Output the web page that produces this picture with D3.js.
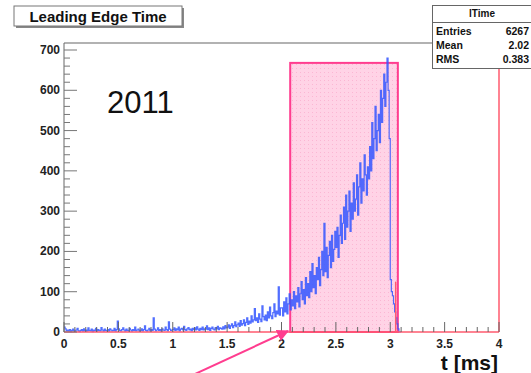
<!DOCTYPE html>
<html><head><meta charset="utf-8">
<script src="https://cdn.jsdelivr.net/npm/d3@7"></script>
<style>body{margin:0;background:#fff}svg{display:block;font-family:"Liberation Sans",Arial,sans-serif}</style>
</head><body><svg id="c" width="531" height="373"></svg>
<script>
// ---- data ----
const binWidth = 0.01;           // ms
const binStart = 0;
const counts = [
 12,8,3,5,2,6,1,4,7,3, 2,5,9,3,1,4,6,2,8,3, 5,2,10,4,3,7,1,5,3,9, 2,6,4,3,11,5,2,7,4,3, 6,2,8,5,3,4,9,2,6,27,
 8,4,3,6,10,5,2,7,4,3, 9,5,2,6,4,12,3,5,7,2, 4,8,3,6,15,4,2,5,9,3, 6,4,35,7,3,5,10,4,6,3, 8,5,4,12,6,3,25,7,4,5,
 6,10,4,8,5,12,3,7,9,5, 14,6,4,8,11,5,7,3,9,6, 10,5,13,7,4,9,6,12,5,8, 7,15,6,10,4,9,12,7,5,11, 8,14,6,10,9,7,13,8,16,10,
 12,18,9,15,20,11,16,25,13,18, 22,14,28,17,21,30,16,24,35,19, 27,22,40,25,30,58,28,35,24,45, 32,26,65,38,30,42,28,50,35,62, 40,33,48,70,38,52,45,112,42,60,
 60,40,75,50,85,45,70,95,55,80, 65,100,58,90,75,110,62,95,125,80, 105,70,135,90,120,85,150,100,170,110, 140,95,160,130,185,115,155,200,140,270, 150,210,135,190,225,160,240,175,205,250,
 210,260,185,240,290,220,270,310,230,340, 260,300,350,250,320,280,370,300,330,390, 290,360,420,320,380,350,440,390,340,410,
 380,460,400,520,430,480,560,450,500,540, 470,600,520,580,640,560,620,680,600,480,
 130,100,90,70,50,35,20,8,0,0
];
const redT = [3.05, 4.0];        // second (red) histogram spikes
const redV = [125, 720];
const windowT = [2.08, 3.07];    // shaded selection window
const windowV = 668;
const xTicks = [0, 0.5, 1, 1.5, 2, 2.5, 3, 3.5, 4];
const yTicks = [0, 100, 200, 300, 400, 500, 600, 700];
const title = "Leading Edge Time";
const statsName = "lTime";
const statsLabels = ["Entries", "Mean", "RMS"];
const statsValues = ["6267", "2.02", "0.383"];
const yearLabel = "2011";
const xTitle = "t [ms]";

// ---- layout ----
const svg = d3.select("#c");
const L = 64, R = 499, T = 43, B = 332;
const x = d3.scaleLinear().domain([0, 4]).range([L, R]);
const y = d3.scaleLinear().domain([0, 700]).range([B, 50]);

// frame top
svg.append("line").attr("x1", L).attr("x2", 432).attr("y1", T).attr("y2", T).attr("stroke", "#999").attr("stroke-width", 1.5);

// shaded window
const defs = svg.append("defs");
const pat = defs.append("pattern").attr("id", "dots").attr("width", 4).attr("height", 4).attr("patternUnits", "userSpaceOnUse");
pat.append("rect").attr("width", 4).attr("height", 4).attr("fill", "#ffd3e6");
pat.append("rect").attr("width", 1).attr("height", 1).attr("fill", "#fbb6d3");
svg.append("rect").attr("x", x(windowT[0])).attr("y", y(windowV))
  .attr("width", x(windowT[1]) - x(windowT[0])).attr("height", y(0) - y(windowV))
  .attr("fill", "url(#dots)").attr("stroke", "#ff3d8f").attr("stroke-width", 2);

// histogram
const pts = counts.map((c, i) => [binStart + i * binWidth, c]);
pts.push([binStart + counts.length * binWidth, 0]);
const line = d3.line().x(d => x(d[0])).y(d => y(d[1])).curve(d3.curveStepAfter);
svg.append("path").attr("d", line(pts)).attr("fill", "none").attr("stroke", "#3355ff").attr("stroke-width", 1.2).attr("stroke-opacity", 0.85);

// red histogram (baseline + spikes)
svg.append("line").attr("x1", x(0)).attr("x2", x(4)).attr("y1", y(0)).attr("y2", y(0)).attr("stroke", "#ff5a6e").attr("stroke-width", 1.5);
redT.forEach((t, i) => {
  svg.append("line").attr("x1", x(t)).attr("x2", x(t)).attr("y1", y(0)).attr("y2", y(redV[i])).attr("stroke", "#ff5a6e").attr("stroke-width", 1.5);
});

// axes
const yAxis = svg.append("g");
yAxis.append("line").attr("x1", L).attr("x2", L).attr("y1", T).attr("y2", B).attr("stroke", "#666");
d3.range(0, 720, 20).forEach(v => {
  const major = v % 100 === 0;
  if (y(v) < T) return;
  yAxis.append("line").attr("x1", L).attr("x2", L + (major ? 13 : 6)).attr("y1", y(v)).attr("y2", y(v)).attr("stroke", "#777");
});
yTicks.forEach(v => {
  yAxis.append("text").attr("x", L - 4).attr("y", y(v) + 4).attr("text-anchor", "end")
    .attr("font-size", 12).attr("font-weight", "bold").attr("fill", "#222").text(d3.format("d")(v));
});
const xAxis = svg.append("g");
d3.range(0, 41).forEach(i => {
  const v = i / 10;
  const major = i % 5 === 0;
  xAxis.append("line").attr("x1", x(v)).attr("x2", x(v)).attr("y1", B).attr("y2", B - (major ? 10 : 5)).attr("stroke", "#666");
});
xTicks.forEach(v => {
  xAxis.append("text").attr("x", x(v)).attr("y", B + 16).attr("text-anchor", "middle")
    .attr("font-size", 12).attr("font-weight", "bold").attr("fill", "#222").text(String(v));
});

// year label
svg.append("text").attr("x", 107).attr("y", 113).attr("font-size", 31).attr("fill", "#111").text(yearLabel);
// x title
svg.append("text").attr("x", 498).attr("y", 370).attr("text-anchor", "end").attr("font-size", 21).attr("font-weight", "bold").attr("fill", "#111").text(xTitle);

// title box
svg.append("rect").attr("x", 16).attr("y", 8).attr("width", 168).attr("height", 20).attr("fill", "#888");
svg.append("rect").attr("x", 14).attr("y", 6).attr("width", 168).attr("height", 20).attr("fill", "#fff").attr("stroke", "#777");
svg.append("text").attr("x", 98).attr("y", 21.5).attr("text-anchor", "middle").attr("font-size", 15).attr("font-weight", "bold").attr("fill", "#111").text(title);

// stats box
const sb = svg.append("g");
sb.append("rect").attr("x", 432.5).attr("y", 5.5).attr("width", 110).attr("height", 63).attr("fill", "#fff").attr("stroke", "#666");
sb.append("line").attr("x1", 432.5).attr("x2", 531).attr("y1", 22.5).attr("y2", 22.5).attr("stroke", "#666");
sb.append("text").attr("x", 482).attr("y", 17).attr("text-anchor", "middle").attr("font-size", 10).attr("font-weight", "bold").attr("fill", "#111").text(statsName);
statsLabels.forEach((lab, i) => {
  const yy = 35 + i * 14;
  sb.append("text").attr("x", 436).attr("y", yy).attr("font-size", 10.5).attr("font-weight", "bold").attr("fill", "#111").text(lab);
  sb.append("text").attr("x", 529).attr("y", yy).attr("text-anchor", "end").attr("font-size", 10.5).attr("font-weight", "bold").attr("fill", "#111").text(statsValues[i]);
});

// arrow
defs.append("marker").attr("id", "ah").attr("viewBox", "0 0 10 10").attr("refX", 9).attr("refY", 5)
  .attr("markerWidth", 6).attr("markerHeight", 6).attr("orient", "auto")
  .append("path").attr("d", "M0,0L10,5L0,10z").attr("fill", "#ff3d8f");
svg.append("line").attr("x1", 195).attr("y1", 374).attr("x2", 288).attr("y2", 331)
  .attr("stroke", "#ff3d8f").attr("stroke-width", 2).attr("marker-end", "url(#ah)");
</script>
</body></html>
